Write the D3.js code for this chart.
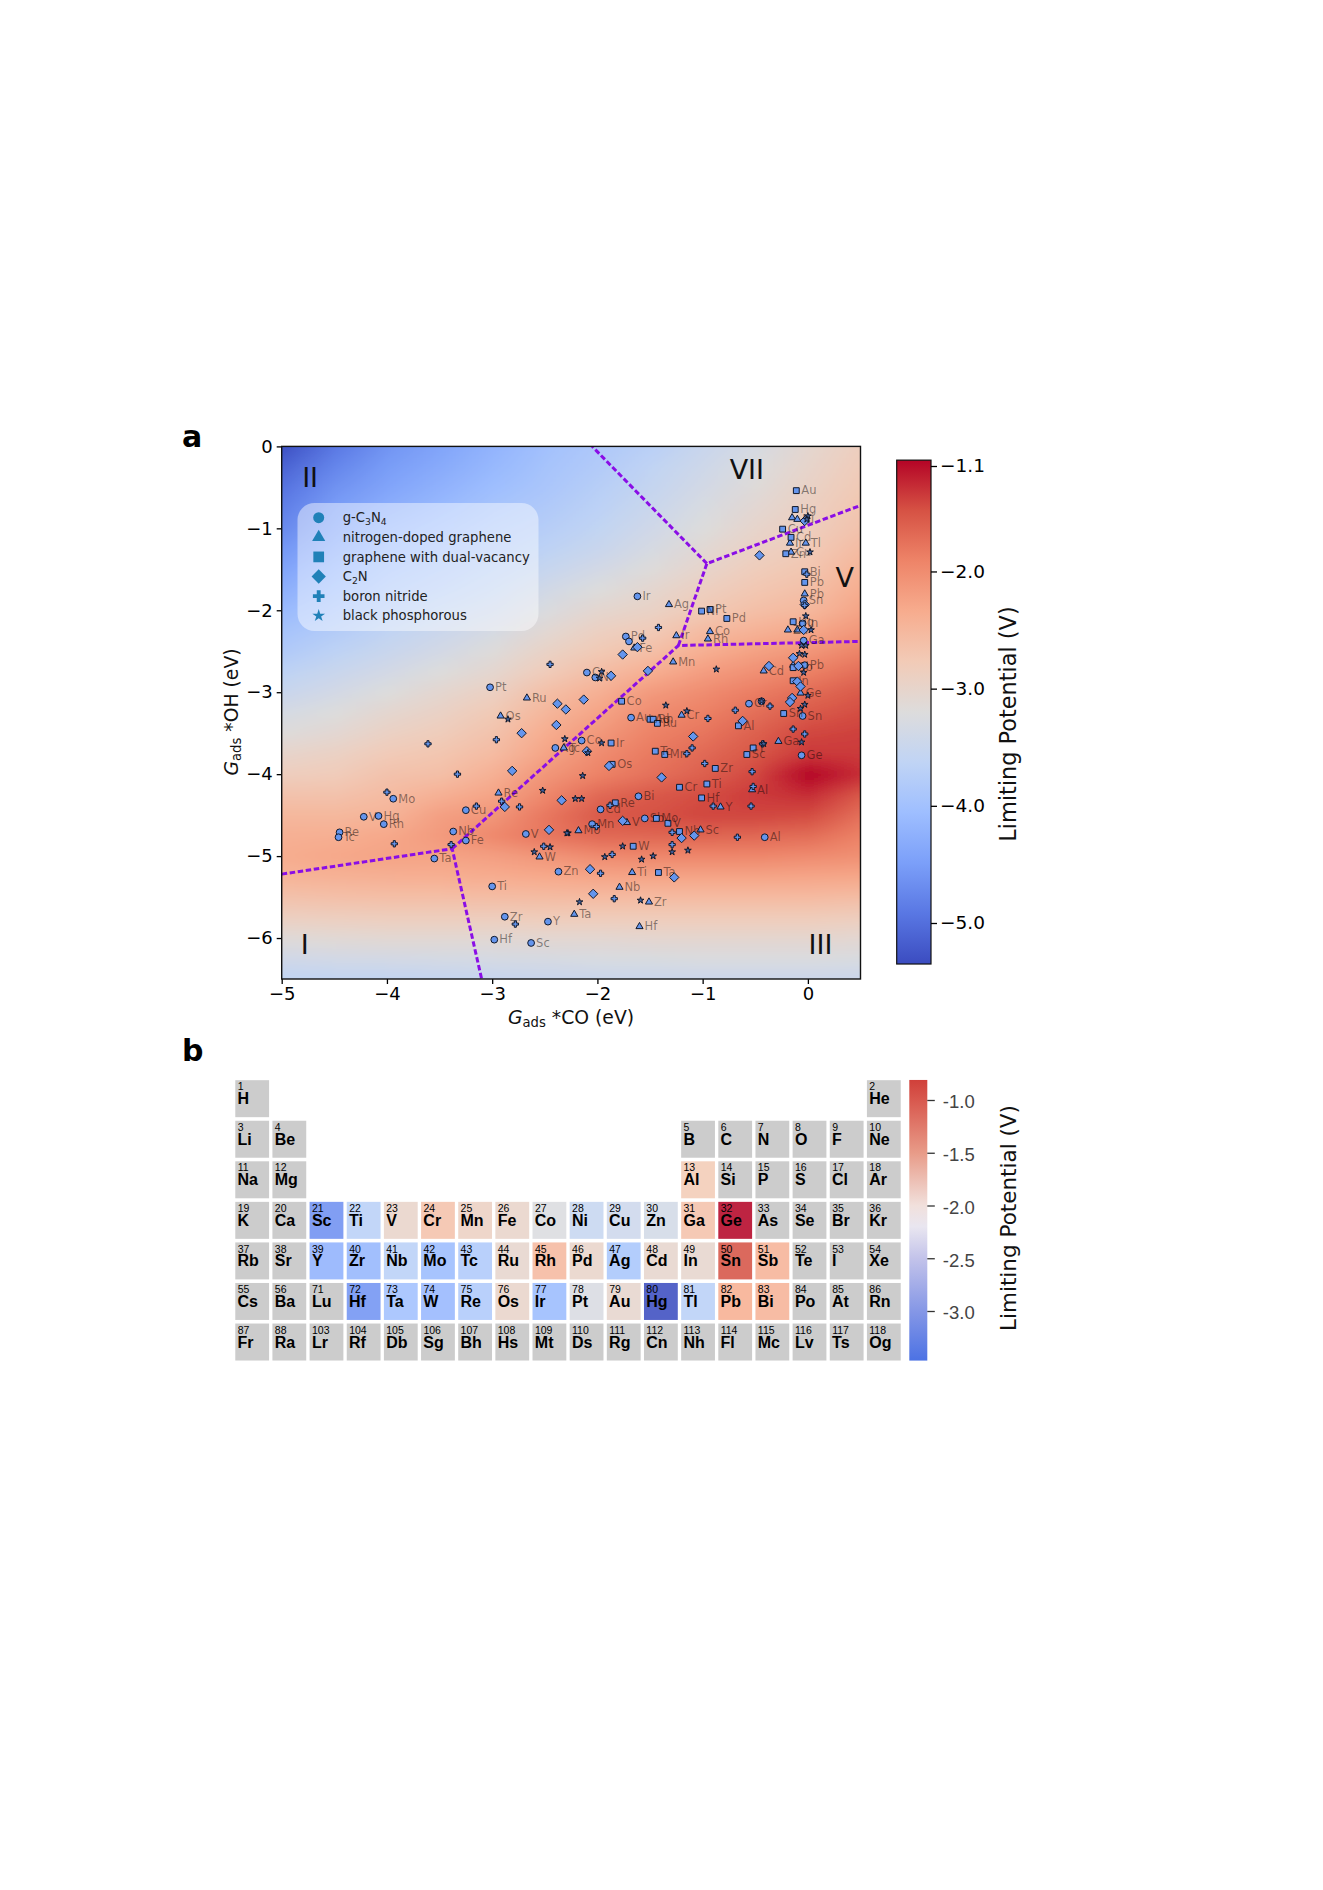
<!DOCTYPE html>
<html>
<head>
<meta charset="utf-8">
<script src="https://cdn.jsdelivr.net/npm/d3@7"></script>
<style>
  body { margin: 0; background: #fff; }
  svg { display: block; font-family: "DejaVu Sans", sans-serif; }
</style>
</head>
<body>
<svg></svg>
<script>
// panel a: [Gads *CO, Gads *OH, metal]
var gc3n4 = [[-3.94,-4.30,"Mo"],[-4.22,-4.52,"V"],[-4.08,-4.51,"Hg"],[-4.03,-4.61,"Rh"],[-4.45,-4.71,"Re"],[-4.46,-4.77,"Tc"],
  [-3.25,-4.44,"Cu"],[-3.37,-4.70,"Nb"],[-3.25,-4.81,"Fe"],[-3.55,-5.03,"Ta"],[-2.68,-4.73,"V"],[-2.37,-5.19,"Zn"],[-3.0,-5.37,"Ti"],
  [-2.88,-5.74,"Zr"],[-2.47,-5.80,"Y"],[-2.98,-6.02,"Hf"],[-2.63,-6.06,"Sc"],[-3.02,-2.94,"Pt"],[-2.40,-3.68,"Ag"],[-2.10,-2.76,"Cr"],
  [-2.02,-2.82,"Ni"],[-1.62,-1.83,"Ir"],[-1.73,-2.32,"Pd"],[-1.70,-2.38],[-1.68,-3.31,"Au"],[-0.56,-3.14,"Cr"],[-0.04,-2.37,"Ga"],
  [-0.05,-3.29,"Sn"],[-0.06,-3.77,"Ge"],[-0.41,-4.77,"Al"],[-1.61,-4.27,"Bi"],[-1.97,-4.43,"Cd"],[-2.05,-4.61,"Mn"],[-1.55,-4.54,"Sb"],
  [-2.15,-3.59,"Co"],[-0.04,-1.88,"Sn"],[-0.05,-2.16,"In"],[-0.03,-2.67,"Pb"],[-0.44,-3.11]];
var ndoped = [[-2.67,-3.07,"Ru"],[-2.92,-3.29,"Os"],[-2.94,-4.23,"Re"],[-2.55,-5.01,"W"],[-2.32,-3.68,"Tc"],[-1.32,-1.93,"Ag"],
  [-1.25,-2.31,"Ir"],[-0.93,-2.26,"Co"],[-0.95,-2.35,"Rh"],[-1.65,-2.46,"Fe"],[-1.28,-2.63,"Mn"],[-0.42,-2.74,"Cd"],[-1.2,-3.28,"Cr"],
  [-0.28,-3.6,"Ga"],[-0.53,-4.19,"Al"],[-0.83,-4.40,"Y"],[-1.02,-4.68,"Sc"],[-1.72,-4.59,"V"],[-2.18,-4.69,"Mo"],[-1.67,-5.20,"Ti"],
  [-1.79,-5.38,"Nb"],[-1.51,-5.56,"Zr"],[-2.22,-5.71,"Ta"],[-1.60,-5.86,"Hf"],[-0.15,-0.87],[-0.10,-0.89,"Ni"],[-0.02,-1.18,"Tl"],
  [-0.17,-1.18,"Ir"],[-0.16,-1.29,"Cu"],[-0.03,-1.80,"Pb"],[-0.19,-2.24,"Zn"],[-0.10,-2.24],[-0.14,-2.67],[-0.07,-3.01,"Ge"]];
var dualVacancy = [[-0.11,-0.54,"Au"],[-0.12,-0.77,"Hg"],[-0.24,-1.01,"Cu"],[-0.16,-1.11,"Cd"],[-0.21,-1.31,"Zn"],[-0.03,-1.53,"Bi"],
  [-0.03,-1.66,"Pb"],[-0.93,-1.99,"Pt"],[-1.01,-2.01,"Ni"],[-0.77,-2.10,"Pd"],[-0.14,-2.14,"Hg"],[-0.14,-2.70,"Sb"],[-0.14,-2.86,"In"],
  [-0.23,-3.26,"Sn"],[-0.66,-3.41,"Al"],[-1.77,-3.11,"Co"],[-1.50,-3.33,"Ag"],[-1.47,-3.33,"Rh"],[-1.43,-3.38,"Ru"],[-1.87,-3.62,"Ir"],
  [-1.86,-3.88,"Os"],[-1.45,-3.72,"Tc"],[-1.36,-3.76,"Mn"],[-0.58,-3.76,"Sc"],[-0.52,-3.68,"Y"],[-0.88,-3.93,"Zr"],[-0.96,-4.12,"Ti"],
  [-1.22,-4.16,"Cr"],[-1.01,-4.29,"Hf"],[-1.83,-4.35,"Re"],[-1.44,-4.54,"Mo"],[-1.33,-4.60,"V"],[-1.22,-4.70,"Nb"],[-1.66,-4.88,"W"],[-1.42,-5.20,"Ta"]];
var c2n = [[-2.38,-3.14],[-2.30,-3.21],[-2.13,-3.09],[-1.87,-2.80],[-2.39,-3.40],[-2.72,-3.50],[-2.81,-3.96],[-2.88,-4.40],[-2.34,-4.32],
  [-2.46,-4.68],[-2.10,-3.72],[-1.89,-3.90],[-1.39,-4.04],[-1.09,-3.54],[-1.76,-4.57],[-1.20,-4.78],[-1.08,-4.75],[-1.27,-5.26],[-2.07,-5.16],
  [-2.04,-5.46],[-0.62,-3.35],[-0.46,-1.33],[-1.76,-2.54],[-1.52,-2.74],[-1.62,-2.45],[-0.37,-2.68],[-0.14,-2.58],[-0.04,-2.24],[-0.03,-0.91],
  [-0.10,-2.87],[-0.07,-2.93],[-0.15,-3.07],[-0.17,-3.12],[-0.09,-2.68],[-0.03,-1.93]];
var boronNitride = [[-4.0,-4.22],[-3.61,-3.63],[-3.33,-4.0],[-3.93,-4.85],[-3.39,-4.86],[-3.15,-4.39],[-2.96,-3.58],[-2.78,-5.83],[-2.74,-4.40],
  [-2.51,-4.88],[-2.91,-4.33],[-2.45,-2.66],[-1.42,-2.21],[-1.57,-2.34],[-0.69,-3.22],[-0.36,-3.17],[-0.95,-3.32],[-0.01,-1.56],[-0.03,-1.94],
  [-0.14,-3.45],[-0.03,-3.51],[-0.43,-3.63],[-1.10,-3.68],[-1.15,-3.75],[-0.98,-3.87],[-0.53,-3.97],[-0.52,-4.15],[-0.90,-4.39],[-0.54,-4.39],
  [-0.67,-4.77],[-1.29,-4.71],[-1.29,-4.86],[-1.86,-4.98],[-1.97,-5.21],[-1.84,-5.52],[-1.88,-4.38],[-2.01,-4.64]];
var blackPhosphorus = [[-2.52,-4.20],[-2.28,-4.72],[-2.45,-4.89],[-2.60,-4.95],[-2.85,-3.33],[-2.31,-3.57],[-2.09,-3.74],[-1.96,-3.62],[-2.14,-4.02],
  [-2.21,-4.30],[-2.15,-4.30],[-2.29,-4.72],[-1.76,-4.88],[-1.93,-5.01],[-1.58,-5.04],[-1.47,-5.00],[-1.29,-4.95],[-1.14,-4.93],[-2.17,-5.56],
  [-1.59,-5.54],[-1.35,-3.16],[-1.15,-3.23],[-0.87,-2.72],[0.02,-1.29],[-0.44,-3.11],[-0.02,-2.07],[0.03,-2.24],[-0.06,-2.43],[-0.02,-2.43],
  [-0.08,-2.53],[-0.03,-2.54],[-0.04,-2.76],[0,-3.04],[-0.03,-3.15],[-0.07,-3.2],[0,-0.85],[-0.01,-0.89],[-1.96,-2.75],[-1.98,-2.83],[-0.06,-3.61],[-0.42,-3.63]];

var fieldX = [-5,-4.5,-4,-3.5,-3,-2.5,-2,-1.5,-1,-0.5,0,0.5];
var fieldY = [0,-0.25,-0.5,-0.75,-1,-1.25,-1.5,-1.75,-2,-2.25,-2.5,-2.75,-3,-3.25,-3.5,-3.75,-4,-4.25,-4.5,-4.75,-5,-5.25,-5.5,-5.75,-6,-6.25,-6.5];
var field = [
  [-5.30,-4.90,-4.60,-4.40,-4.20,-4.00,-3.85,-3.70,-3.50,-3.30,-3.05,-2.85],
  [-5.10,-4.75,-4.50,-4.32,-4.13,-3.95,-3.80,-3.62,-3.42,-3.22,-3.00,-2.80],
  [-4.95,-4.62,-4.40,-4.22,-4.05,-3.90,-3.73,-3.55,-3.35,-3.15,-2.95,-2.75],
  [-4.82,-4.50,-4.28,-4.12,-3.95,-3.82,-3.67,-3.48,-3.28,-3.08,-2.90,-2.70],
  [-4.70,-4.40,-4.15,-4.00,-3.85,-3.75,-3.60,-3.40,-3.20,-3.00,-2.85,-2.65],
  [-4.55,-4.28,-4.05,-3.92,-3.78,-3.65,-3.50,-3.30,-3.10,-2.92,-2.78,-2.55],
  [-4.40,-4.15,-3.95,-3.82,-3.68,-3.52,-3.35,-3.18,-3.00,-2.82,-2.70,-2.45],
  [-4.25,-4.03,-3.85,-3.72,-3.58,-3.38,-3.20,-3.05,-2.88,-2.72,-2.60,-2.35],
  [-4.10,-3.90,-3.75,-3.60,-3.45,-3.25,-3.05,-2.95,-2.75,-2.60,-2.50,-2.25],
  [-3.95,-3.78,-3.62,-3.47,-3.32,-3.10,-2.90,-2.78,-2.55,-2.42,-2.30,-2.10],
  [-3.82,-3.65,-3.50,-3.35,-3.18,-2.95,-2.75,-2.60,-2.38,-2.22,-2.10,-1.90],
  [-3.65,-3.50,-3.35,-3.20,-3.05,-2.80,-2.58,-2.38,-2.18,-2.03,-1.88,-1.72],
  [-3.50,-3.35,-3.20,-3.05,-2.90,-2.60,-2.40,-2.15,-2.00,-1.85,-1.70,-1.55],
  [-3.32,-3.20,-3.05,-2.93,-2.75,-2.48,-2.25,-2.00,-1.88,-1.72,-1.55,-1.45],
  [-3.18,-3.08,-2.92,-2.82,-2.65,-2.35,-2.12,-1.90,-1.78,-1.60,-1.42,-1.38],
  [-3.00,-2.92,-2.78,-2.70,-2.55,-2.25,-2.00,-1.82,-1.68,-1.52,-1.34,-1.35],
  [-2.85,-2.80,-2.65,-2.60,-2.40,-2.10,-1.90,-1.75,-1.60,-1.42,-1.05,-1.28],
  [-2.65,-2.65,-2.55,-2.40,-2.25,-1.95,-1.68,-1.55,-1.45,-1.35,-1.28,-1.55],
  [-2.50,-2.50,-2.45,-2.20,-2.10,-1.80,-1.55,-1.48,-1.42,-1.42,-1.45,-1.75],
  [-2.40,-2.38,-2.30,-2.15,-1.95,-1.80,-1.68,-1.66,-1.65,-1.68,-1.72,-1.90],
  [-2.35,-2.30,-2.25,-2.25,-2.20,-2.10,-2.00,-1.95,-1.95,-1.95,-2.00,-2.05],
  [-2.45,-2.42,-2.40,-2.38,-2.36,-2.32,-2.28,-2.26,-2.26,-2.26,-2.28,-2.30],
  [-2.65,-2.62,-2.60,-2.60,-2.58,-2.56,-2.55,-2.55,-2.55,-2.55,-2.55,-2.58],
  [-2.90,-2.88,-2.85,-2.85,-2.85,-2.82,-2.82,-2.82,-2.82,-2.82,-2.82,-2.85],
  [-3.15,-3.12,-3.10,-3.10,-3.10,-3.08,-3.08,-3.06,-3.05,-3.05,-3.05,-3.08],
  [-3.40,-3.37,-3.35,-3.33,-3.32,-3.30,-3.28,-3.27,-3.25,-3.25,-3.25,-3.27],
  [-3.62,-3.60,-3.58,-3.55,-3.52,-3.50,-3.48,-3.47,-3.45,-3.45,-3.45,-3.47]
];

// region boundaries
var boundaries = [
  [[-5,-5.22],[-3.38,-4.91],[-3.10,-6.5]],
  [[-3.38,-4.91],[-1.23,-2.43],[0.5,-2.38]],
  [[-1.23,-2.43],[-0.96,-1.43],[0.5,-0.72]],
  [[-0.96,-1.43],[-2.05,0]]
];
var regionLabels = [["II",-4.73,-0.38],["I",-4.78,-6.08],["III",0.12,-6.08],["V",0.35,-1.6],["VII",-0.58,-0.28]];

var xTicks = [-5,-4,-3,-2,-1,0];
var yTicks = [0,-1,-2,-3,-4,-5,-6];
var barTicks = [-1.1,-2,-3,-4,-5];

var coolwarm = ["#3b4cc0","#5977e3","#7b9ff9","#9ebeff","#c0d4f5","#dddcdc","#f2cbb7","#f7ac8e","#ee8468","#d65244","#b40426"];

// panel b: one list per periodic table row, null is a gap
var elementRows = [
  ["H",null,null,null,null,null,null,null,null,null,null,null,null,null,null,null,null,"He"],
  ["Li","Be",null,null,null,null,null,null,null,null,null,null,"B","C","N","O","F","Ne"],
  ["Na","Mg",null,null,null,null,null,null,null,null,null,null,"Al","Si","P","S","Cl","Ar"],
  ["K","Ca","Sc","Ti","V","Cr","Mn","Fe","Co","Ni","Cu","Zn","Ga","Ge","As","Se","Br","Kr"],
  ["Rb","Sr","Y","Zr","Nb","Mo","Tc","Ru","Rh","Pd","Ag","Cd","In","Sn","Sb","Te","I","Xe"],
  ["Cs","Ba","Lu","Hf","Ta","W","Re","Os","Ir","Pt","Au","Hg","Tl","Pb","Bi","Po","At","Rn"],
  ["Fr","Ra","Lr","Rf","Db","Sg","Bh","Hs","Mt","Ds","Rg","Cn","Nh","Fl","Mc","Lv","Ts","Og"]
];
var atomicRows = [
  [1,null,null,null,null,null,null,null,null,null,null,null,null,null,null,null,null,2],
  [3,4,null,null,null,null,null,null,null,null,null,null,5,6,7,8,9,10],
  [11,12,null,null,null,null,null,null,null,null,null,null,13,14,15,16,17,18],
  [19,20,21,22,23,24,25,26,27,28,29,30,31,32,33,34,35,36],
  [37,38,39,40,41,42,43,44,45,46,47,48,49,50,51,52,53,54],
  [55,56,71,72,73,74,75,76,77,78,79,80,81,82,83,84,85,86],
  [87,88,103,104,105,106,107,108,109,110,111,112,113,114,115,116,117,118]
];
var bestPotential = {
  Sc:-3.04,Ti:-2.46,V:-2.0,Cr:-1.79,Mn:-1.95,Fe:-2.0,Co:-2.17,Ni:-2.35,Cu:-2.3,Zn:-2.25,Al:-1.87,Ga:-1.79,Ge:-0.81,
  Y:-2.78,Zr:-2.75,Nb:-2.46,Mo:-2.70,Tc:-2.54,Ru:-2.03,Rh:-1.71,Pd:-2.0,Ag:-2.59,Cd:-2.03,In:-2.03,Sn:-1.08,Sb:-1.66,
  Hf:-3.02,Ta:-2.65,W:-2.73,Re:-2.54,Os:-2.0,Ir:-2.70,Pt:-2.19,Au:-2.03,Hg:-3.47,Tl:-2.46,Pb:-1.63,Bi:-1.66
};
var tableBarValues = [-0.81,-1,-1.5,-2,-2.2,-2.5,-3,-3.47];
var tableBarColors = ["#d0403a","#d8584e","#e89b88","#f1e0dc","#e9e6f0","#c3c3ea","#8597e6","#4c72e4"];
var tableBarTicks = [-1,-1.5,-2,-2.5,-3];

var svg = d3.select("svg").attr("width", 1323).attr("height", 1890);

var x = d3.scaleLinear().domain([-5, 0.5]).range([281.7, 860.5]);
var y = d3.scaleLinear().domain([0, -6.5]).range([446.4, 979]);

var color = d3
  .scaleLinear()
  .domain(d3.range(11).map(function (i) { return -5.35 + i * 0.43; }))
  .range(coolwarm)
  .interpolate(d3.interpolateRgb);

// background: one canvas pixel per value, the browser smooths it when scaled
var canvas = document.createElement("canvas");
canvas.width = fieldX.length;
canvas.height = fieldY.length;
var ctx = canvas.getContext("2d");
field.forEach(function (row, j) {
  row.forEach(function (v, i) {
    ctx.fillStyle = color(v);
    ctx.fillRect(i, j, 1, 1);
  });
});

var defs = svg.append("defs");
defs.append("clipPath").attr("id", "plot-clip").append("rect")
  .attr("x", x(-5)).attr("y", y(0)).attr("width", x(0.5) - x(-5)).attr("height", y(-6.5) - y(0));
defs.append("filter").attr("id", "soften").attr("x", "-5%").attr("y", "-5%").attr("width", "110%").attr("height", "110%")
  .append("feGaussianBlur").attr("stdDeviation", 3.5);

var xStep = x(-4.5) - x(-5);
var yStep = y(-0.25) - y(0);
svg.append("g").attr("clip-path", "url(#plot-clip)")
  .append("image")
  .attr("href", canvas.toDataURL())
  .attr("x", x(-5) - xStep / 2)
  .attr("y", y(0) - yStep / 2)
  .attr("width", xStep * fieldX.length)
  .attr("height", yStep * fieldY.length)
  .attr("preserveAspectRatio", "none")
  .attr("filter", "url(#soften)");

// boundaries
var line = d3.line().x(function (d) { return x(d[0]); }).y(function (d) { return y(d[1]); });
svg.append("g").attr("clip-path", "url(#plot-clip)")
  .selectAll("path")
  .data(boundaries)
  .join("path")
  .attr("d", line)
  .attr("fill", "none")
  .attr("stroke", "#8a0ee6")
  .attr("stroke-width", 3)
  .attr("stroke-dasharray", "5.5 2.6");

// markers
var series = [
  { data: gc3n4, symbol: d3.symbolCircle, size: 36, legendSize: 95, name: "g-C3N4", fill: "#6495ed" },
  { data: ndoped, symbol: d3.symbolTriangle, size: 22, legendSize: 75, name: "nitrogen-doped graphene", fill: "#6495ed" },
  { data: dualVacancy, symbol: d3.symbolSquare, size: 34, legendSize: 115, name: "graphene with dual-vacancy", fill: "#6495ed" },
  { data: c2n, symbol: d3.symbolDiamond2, size: 56, legendSize: 130, name: "C2N", fill: "#6495ed" },
  { data: boronNitride, symbol: d3.symbolCross, size: 22, legendSize: 75, name: "boron nitride", fill: "#6495ed" },
  { data: blackPhosphorus, symbol: d3.symbolStar, size: 14, legendSize: 50, name: "black phosphorous", fill: "#42619c" }
];

series.forEach(function (s) {
  var g = svg.append("g");
  g.selectAll("path")
    .data(s.data)
    .join("path")
    .attr("d", d3.symbol().type(s.symbol).size(s.size))
    .attr("transform", function (d) { return "translate(" + x(d[0]) + "," + y(d[1]) + ")"; })
    .attr("fill", s.fill)
    .attr("stroke", "#10182a")
    .attr("stroke-width", 1);
  g.selectAll("text")
    .data(s.data.filter(function (d) { return d[2]; }))
    .join("text")
    .attr("x", function (d) { return x(d[0]) + 5; })
    .attr("y", function (d) { return y(d[1]); })
    .attr("dy", "0.33em")
    .attr("font-size", "11.5px")
    .attr("fill", "#000")
    .attr("fill-opacity", 0.45)
    .text(function (d) { return d[2]; });
});

// region numerals
svg.append("g")
  .selectAll("text")
  .data(regionLabels)
  .join("text")
  .attr("x", function (d) { return x(d[1]); })
  .attr("y", function (d) { return y(d[2]); })
  .attr("dy", "0.36em")
  .attr("text-anchor", "middle")
  .attr("font-size", "27px")
  .attr("fill", "#111")
  .text(function (d) { return d[0]; });

// legend
var legend = svg.append("g");
legend.append("rect")
  .attr("x", 297.5).attr("y", 503).attr("width", 241).attr("height", 128)
  .attr("rx", 17).attr("fill", "#fff").attr("fill-opacity", 0.45);
var legendRows = legend.selectAll("g.row")
  .data(series)
  .join("g")
  .attr("class", "row")
  .attr("transform", function (d, i) { return "translate(318.7," + (517.7 + i * 19.6) + ")"; });
legendRows.append("path")
  .attr("d", function (d) { return d3.symbol().type(d.symbol).size(d.legendSize)(); })
  .attr("fill", "#2081b8");
var legendText = legendRows.append("text")
  .attr("x", 24)
  .attr("dy", "0.36em")
  .attr("font-size", "13.2px")
  .attr("fill", "#222");
function subscripted(sel, parts) {
  parts.forEach(function (p, i) {
    var t = sel.append("tspan").text(p);
    if (i % 2 == 1) t.attr("dy", "0.25em").attr("font-size", "0.7em");
    else if (i > 0) t.attr("dy", "-0.175em");
  });
}
legendText.each(function (d) {
  var sel = d3.select(this);
  if (d.name == "g-C3N4") subscripted(sel, ["g-C", "3", "N", "4"]);
  else if (d.name == "C2N") subscripted(sel, ["C", "2", "N"]);
  else sel.text(d.name);
});

// axes
var xAxis = svg.append("g")
  .attr("transform", "translate(0," + y(-6.5) + ")")
  .call(d3.axisBottom(x).tickValues(xTicks).tickSize(5).tickPadding(3).tickFormat(d3.format("d")));
var yAxis = svg.append("g")
  .attr("transform", "translate(" + x(-5) + ",0)")
  .call(d3.axisLeft(y).tickValues(yTicks).tickSize(5).tickPadding(4).tickFormat(d3.format("d")));
[xAxis, yAxis].forEach(function (a) {
  a.select(".domain").remove();
  a.selectAll("line").attr("stroke-width", 1.3).attr("stroke", "#000");
  a.selectAll("text").attr("font-size", "18px").attr("font-family", '"DejaVu Sans"').attr("fill", "#000");
});
svg.append("rect")
  .attr("x", x(-5)).attr("y", y(0)).attr("width", x(0.5) - x(-5)).attr("height", y(-6.5) - y(0))
  .attr("fill", "none").attr("stroke", "#111").attr("stroke-width", 1.4);

function adsLabel(sel, rest) {
  sel.append("tspan").attr("font-style", "italic").text("G");
  sel.append("tspan").attr("dy", "0.25em").attr("font-size", "0.7em").text("ads");
  sel.append("tspan").attr("dy", "-0.175em").text(" " + rest);
}
svg.append("text")
  .attr("x", 571).attr("y", 1024)
  .attr("text-anchor", "middle").attr("font-size", "18.8px").attr("fill", "#111")
  .call(adsLabel, "*CO (eV)");
svg.append("text")
  .attr("transform", "translate(238,712) rotate(-90)")
  .attr("text-anchor", "middle").attr("font-size", "18.8px").attr("fill", "#111")
  .call(adsLabel, "*OH (eV)");

// colorbar a
var barScale = d3.scaleLinear().domain([-1.1, -5]).range([466, 923]);
var grad = defs.append("linearGradient").attr("id", "bar-a").attr("x1", 0).attr("y1", 1).attr("x2", 0).attr("y2", 0);
coolwarm.forEach(function (c, i) {
  grad.append("stop").attr("offset", i / 10).attr("stop-color", c);
});
svg.append("rect")
  .attr("x", 896.7).attr("y", barScale(-1.05)).attr("width", 34.3).attr("height", barScale(-5.35) - barScale(-1.05))
  .attr("fill", "url(#bar-a)").attr("stroke", "#111").attr("stroke-width", 1.2);
var barAxis = svg.append("g")
  .attr("transform", "translate(931,0)")
  .call(d3.axisRight(barScale).tickValues(barTicks).tickSize(6).tickPadding(3).tickFormat(d3.format(".1f")));
barAxis.select(".domain").remove();
barAxis.selectAll("line").attr("stroke-width", 1.3).attr("stroke", "#000");
barAxis.selectAll("text").attr("font-size", "18.5px").attr("font-family", '"DejaVu Sans"').attr("fill", "#000");
svg.append("text")
  .attr("transform", "translate(1016,724) rotate(-90)")
  .attr("text-anchor", "middle").attr("font-size", "22.4px").attr("fill", "#111")
  .text("Limiting  Potential (V)");

// panel letters
svg.selectAll("text.panel")
  .data([["a", 447], ["b", 1061]])
  .join("text")
  .attr("class", "panel")
  .attr("x", 182).attr("y", function (d) { return d[1]; })
  .attr("font-size", "30px").attr("font-weight", "bold").attr("fill", "#000")
  .text(function (d) { return d[0]; });

// periodic table
var col = d3.scaleBand().domain(d3.range(18)).range([233.6, 902.4]).paddingInner(0.09).paddingOuter(0.045);
var row = d3.scaleBand().domain(d3.range(7)).range([1078.4, 1362.3]).paddingInner(0.088).paddingOuter(0.044);
var cellColor = d3
  .scaleLinear()
  .domain(d3.range(11).map(function (i) { return -3.47 + i * 0.266; }))
  .range(coolwarm)
  .interpolate(d3.interpolateRgb);

var cells = [];
elementRows.forEach(function (r, j) {
  r.forEach(function (sym, i) {
    if (sym) cells.push({ sym: sym, num: atomicRows[j][i], i: i, j: j });
  });
});
var cell = svg.append("g").selectAll("g")
  .data(cells)
  .join("g")
  .attr("transform", function (d) { return "translate(" + col(d.i) + "," + row(d.j) + ")"; });
cell.append("rect")
  .attr("width", col.bandwidth())
  .attr("height", row.bandwidth())
  .attr("fill", function (d) { return d.sym in bestPotential ? cellColor(bestPotential[d.sym]) : "#ccc"; })
  .attr("fill-opacity", function (d) { return d.sym in bestPotential ? 0.87 : 1; });
cell.append("text")
  .attr("x", 2.4).attr("y", 10.2)
  .attr("font-size", "10.5px").attr("font-family", '"Liberation Sans"').attr("fill", "#000")
  .text(function (d) { return d.num; });
cell.append("text")
  .attr("x", 2.3).attr("y", 24)
  .attr("font-size", "16px").attr("font-weight", "bold").attr("font-family", '"Liberation Sans"').attr("fill", "#000")
  .text(function (d) { return d.sym; });

// colorbar b
var tableBar = d3.scaleLinear().domain([-1, -3]).range([1100, 1311]);
var gradB = defs.append("linearGradient").attr("id", "bar-b").attr("x1", 0).attr("y1", 0).attr("x2", 0).attr("y2", 1);
tableBarValues.forEach(function (v, i) {
  gradB.append("stop")
    .attr("offset", (tableBar(v) - tableBar(-0.81)) / (tableBar(-3.47) - tableBar(-0.81)))
    .attr("stop-color", tableBarColors[i]);
});
svg.append("rect")
  .attr("x", 909.3).attr("y", tableBar(-0.81)).attr("width", 18).attr("height", tableBar(-3.47) - tableBar(-0.81))
  .attr("fill", "url(#bar-b)");
var tableAxis = svg.append("g")
  .attr("transform", "translate(927.3,0)")
  .call(d3.axisRight(tableBar).tickValues(tableBarTicks).tickSize(7.5).tickPadding(8).tickFormat(function (d) { return d.toFixed(1); }));
tableAxis.select(".domain").remove();
tableAxis.selectAll("line").attr("stroke-width", 1.3).attr("stroke", "#333");
tableAxis.selectAll("text").attr("dy", "0.42em").attr("font-size", "18.5px").attr("font-family", '"Liberation Sans"').attr("fill", "#444");
svg.append("text")
  .attr("transform", "translate(1016,1218) rotate(-90)")
  .attr("text-anchor", "middle").attr("font-size", "21.5px").attr("fill", "#111")
  .text("Limiting  Potential (V)");
</script>
</body>
</html>
